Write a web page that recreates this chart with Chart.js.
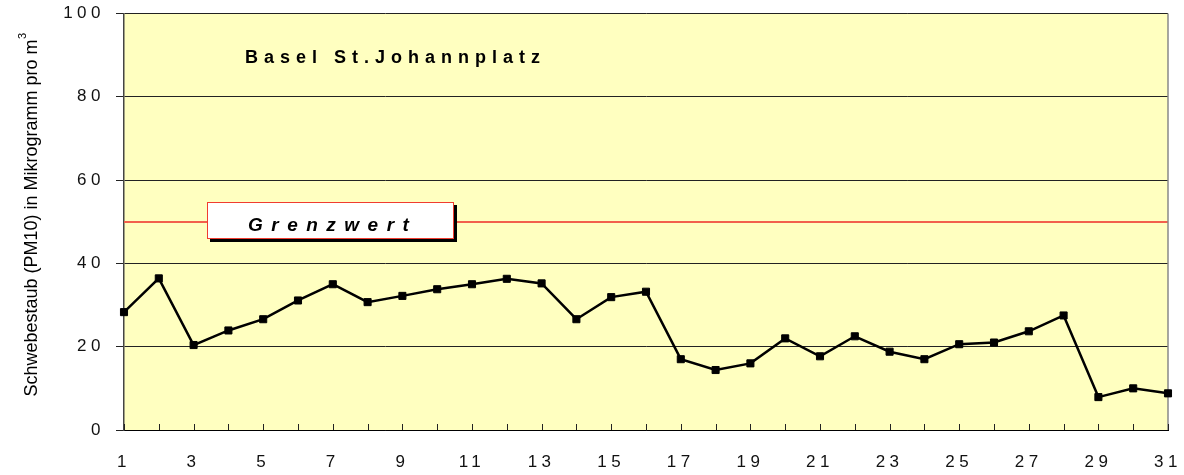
<!DOCTYPE html>
<html>
<head>
<meta charset="utf-8">
<script src="https://cdn.jsdelivr.net/npm/chart.js@4/dist/chart.umd.min.js"></script>
<style>
    body { margin: 0; background: #fff; }
    #wrap { width: 1184px; height: 475px; }
</style>
</head>
<body>
<div id="wrap"><canvas id="pmChart" width="1184" height="475"></canvas></div>
<script>
// Daily PM10 values, Basel St.Johannplatz
const days = ['1', '2', '3', '4', '5', '6', '7', '8', '9', '10', '11', '12', '13', '14', '15', '16',
    '17', '18', '19', '20', '21', '22', '23', '24', '25', '26', '27', '28', '29', '30', '31'];
const pm10 = [28.3, 36.4, 20.4, 23.9, 26.6, 31.1, 35.0, 30.7, 32.2, 33.8, 35.0, 36.3, 35.2, 26.6, 31.9, 33.2,
    17.0, 14.4, 16.0, 22.0, 17.7, 22.5, 18.8, 17.0, 20.6, 21.0, 23.7, 27.5, 7.9, 10.0, 8.8];
const shownDays = ['1', '3', '5', '7', '9', '11', '13', '15', '17', '19', '21', '23', '25', '27', '29', '31'];
const yTicks = [0, 20, 40, 60, 80, 100];
const limit = 50;
const stationName = 'Basel St.Johannplatz';
const limitLabel = 'Grenzwert';
const yTitle = 'Schwebestaub (PM10) in Mikrogramm pro m';

const canvas = document.getElementById('pmChart');

// background, limit line, inner x ticks, labels
const decorations = {
    id: 'decorations',
    beforeDraw(chart) {
        const { ctx, chartArea: a } = chart;
        ctx.save();
        ctx.fillStyle = '#ffffc0';
        ctx.fillRect(a.left, a.top, a.right - a.left, a.bottom - a.top);
        ctx.restore();
        ctx.letterSpacing = '4.5px';
    },
    beforeDatasetsDraw(chart) {
        const { ctx, chartArea: a, scales } = chart;
        ctx.save();
        ctx.letterSpacing = '0px';
        // limit line
        const yl = Math.round(scales.y.getPixelForValue(limit));
        ctx.strokeStyle = '#f2604c';
        ctx.lineWidth = 2;
        ctx.beginPath();
        ctx.moveTo(a.left, yl);
        ctx.lineTo(a.right, yl);
        ctx.stroke();
        // right border
        ctx.strokeStyle = '#888';
        ctx.lineWidth = 1.5;
        ctx.beginPath();
        ctx.moveTo(a.right, a.top);
        ctx.lineTo(a.right, a.bottom);
        ctx.stroke();
        // x ticks pointing inward
        ctx.strokeStyle = '#222';
        ctx.lineWidth = 1;
        ctx.beginPath();
        days.forEach((d, i) => {
            const x = Math.round(scales.x.getPixelForValue(i)) + 0.5;
            ctx.moveTo(x, a.bottom);
            ctx.lineTo(x, a.bottom - 6);
        });
        ctx.stroke();
        ctx.restore();
    },
    afterDraw(chart) {
        const { ctx } = chart;
        ctx.save();
        ctx.fillStyle = '#000';
        ctx.textBaseline = 'alphabetic';
        ctx.textAlign = 'left';

        // station name
        ctx.font = 'bold 18px "Liberation Sans", Arial, sans-serif';
        ctx.letterSpacing = '6px';
        ctx.fillText(stationName, 245, 63);

        // limit label box
        ctx.letterSpacing = '0px';
        ctx.fillStyle = '#000';
        ctx.fillRect(210, 205, 247, 37);
        ctx.fillStyle = '#fff';
        ctx.fillRect(207, 202, 247, 37);
        ctx.strokeStyle = '#f03c30';
        ctx.lineWidth = 1;
        ctx.strokeRect(207.5, 202.5, 246, 36);
        ctx.fillStyle = '#000';
        ctx.font = 'italic bold 19px "Liberation Sans", Arial, sans-serif';
        ctx.letterSpacing = '8.5px';
        ctx.fillText(limitLabel, 248, 231);
        ctx.restore();

        // y axis title, rotated, with superscript 3
        ctx.save();
        ctx.letterSpacing = '0px';
        ctx.fillStyle = '#000';
        ctx.textBaseline = 'alphabetic';
        ctx.font = '18px "Liberation Sans", Arial, sans-serif';
        const w = ctx.measureText(yTitle).width;
        const yTop = 218 - w / 2;
        ctx.translate(36.5, 218);
        ctx.rotate(-Math.PI / 2);
        ctx.textAlign = 'center';
        ctx.fillText(yTitle, 0, 0);
        ctx.restore();

        ctx.save();
        ctx.letterSpacing = '0px';
        ctx.fillStyle = '#000';
        ctx.textBaseline = 'alphabetic';
        ctx.textAlign = 'left';
        ctx.font = '11px "Liberation Sans", Arial, sans-serif';
        ctx.translate(26, yTop - 0.5);
        ctx.rotate(-Math.PI / 2);
        ctx.fillText('3', 0, 0);
        ctx.restore();
    }
};

new Chart(canvas, {
    type: 'line',
    data: {
        labels: days,
        datasets: [{
            data: pm10,
            borderColor: '#000',
            backgroundColor: '#000',
            borderWidth: 2.5,
            pointStyle: 'rect',
            pointRadius: 5,
            pointBorderWidth: 1,
            tension: 0
        }]
    },
    options: {
        responsive: false,
        animation: false,
        layout: { padding: { left: 0, top: 13.5, right: 16, bottom: 0 } },
        plugins: { legend: { display: false }, tooltip: { enabled: false } },
        scales: {
            x: {
                offset: false,
                grid: { drawOnChartArea: false, drawTicks: false },
                border: { color: '#000', width: 1 },
                ticks: {
                    autoSkip: false,
                    maxRotation: 0,
                    padding: 22,
                    color: '#111',
                    font: { family: '"Liberation Sans", Arial, sans-serif', size: 17 },
                    callback(v, i) {
                        return shownDays.includes(days[i]) ? days[i] : '';
                    }
                },
                afterFit(scale) {
                    scale.height = 45;
                    scale.paddingLeft = 0;
                    scale.paddingRight = 0;
                }
            },
            y: {
                min: 0,
                max: 100,
                afterBuildTicks(scale) {
                    scale.ticks = yTicks.map(v => ({ value: v }));
                },
                grid: { color: '#222', lineWidth: 1, tickLength: 8 },
                border: { color: '#444', width: 1.5 },
                ticks: {
                    padding: 11,
                    color: '#111',
                    font: { family: '"Liberation Sans", Arial, sans-serif', size: 17 }
                },
                afterFit(scale) {
                    scale.width = 124;
                    scale.paddingTop = 0;
                    scale.paddingBottom = 0;
                }
            }
        }
    },
    plugins: [decorations]
});
</script>
</body>
</html>
